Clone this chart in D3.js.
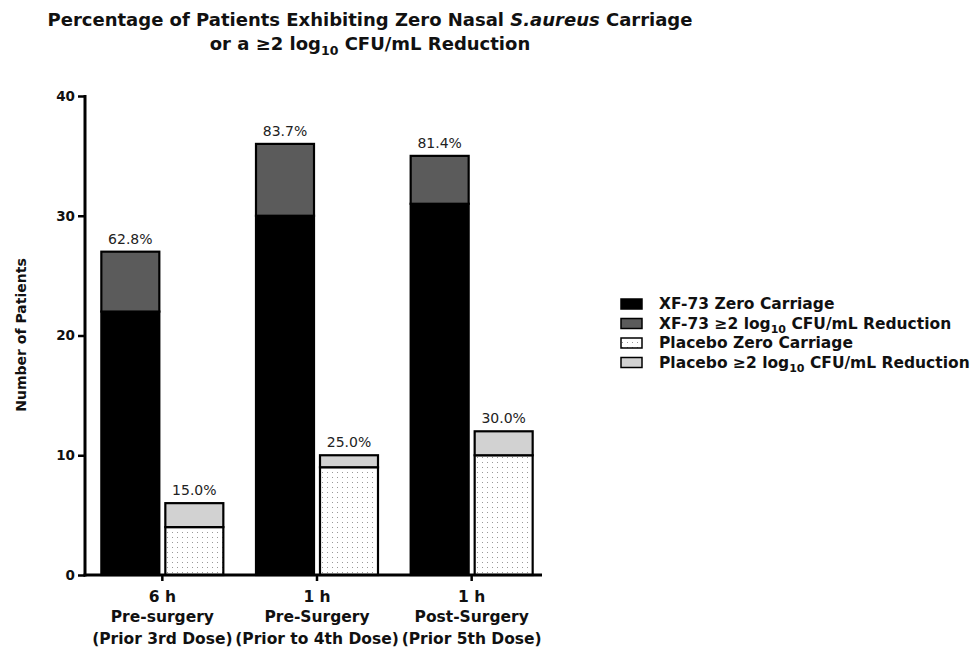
<!DOCTYPE html>
<html><head><meta charset="utf-8">
<script src="https://cdn.jsdelivr.net/npm/d3@7"></script>
<style>body{margin:0;background:#fff;font-family:"DejaVu Sans",sans-serif;}</style>
</head><body><svg id="c" width="971" height="648"></svg>
<script>
const categories = ["g1","g2","g3"];
const catLines = [["6 h","Pre-surgery","(Prior 3rd Dose)"],["1 h","Pre-Surgery","(Prior to 4th Dose)"],["1 h","Post-Surgery","(Prior 5th Dose)"]];
const xfZero = [22,30,31];
const xfRed = [5,6,4];
const pbZero = [4,9,10];
const pbRed = [2,1,2];
const xfPct = ["62.8%","83.7%","81.4%"];
const pbPct = ["15.0%","25.0%","30.0%"];
const yTicks = [0,10,20,30,40];
const legendLabels = ["XF-73 Zero Carriage","XF-73 \u22652 log|10| CFU/mL Reduction","Placebo Zero Carriage","Placebo \u22652 log|10| CFU/mL Reduction"];

const FONT = "DejaVu Sans";
const svg = d3.select("#c");
const defs = svg.append("defs");
const pat = defs.append("pattern").attr("id","dots").attr("patternUnits","userSpaceOnUse").attr("width",5).attr("height",5);
pat.append("rect").attr("width",5).attr("height",5).attr("fill","#fff");
pat.append("rect").attr("x",2).attr("y",2).attr("width",1).attr("height",1).attr("fill","#999");

const fills = ["#000","#5b5b5b","url(#dots)","#d2d2d2"];

const x0 = 85, x1 = 542, yTop = 96, yBot = 575;
const x = d3.scaleBand().domain(categories).range([85, 549]).paddingInner(0).paddingOuter(0);
const y = d3.scaleLinear().domain([0,40]).range([yBot, yTop]);
const bw = 58, gap = 6;

// title
const t = svg.append("text").attr("text-anchor","middle").attr("font-weight","bold").attr("font-size",18).attr("fill","#111").attr("font-family",FONT);
const tl = t.append("tspan").attr("x",370).attr("y",26);
tl.append("tspan").text("Percentage of Patients Exhibiting Zero Nasal ");
tl.append("tspan").attr("font-style","italic").text("S.aureus");
tl.append("tspan").text(" Carriage");
const t2 = svg.append("text").attr("text-anchor","middle").attr("font-weight","bold").attr("font-size",18).attr("x",370).attr("y",50).attr("fill","#111").attr("font-family",FONT);
t2.append("tspan").text("or a \u22652 log");
t2.append("tspan").attr("font-size",12.5).attr("dy",5).text("10");
t2.append("tspan").attr("dy",-5).text(" CFU/mL Reduction");

// bars
categories.forEach((c,i)=>{
  const cx = x(c) + x.bandwidth()/2;
  const xa = cx - gap/2 - bw, xb = cx + gap/2;
  const stacks = [
    {x:xa, segs:[[0,xfZero[i],0],[xfZero[i],xfZero[i]+xfRed[i],1]], lab:xfPct[i]},
    {x:xb, segs:[[0,pbZero[i],2],[pbZero[i],pbZero[i]+pbRed[i],3]], lab:pbPct[i]}
  ];
  stacks.forEach(s=>{
    s.segs.forEach(([a,b,k])=>{
      svg.append("rect").attr("x",s.x).attr("y",y(b)).attr("width",bw).attr("height",y(a)-y(b))
        .attr("fill",fills[k]).attr("stroke","#000").attr("stroke-width",2.2);
    });
    const top = s.segs[1][1];
    svg.append("text").attr("x",s.x+bw/2).attr("y",y(top)-8).attr("text-anchor","middle")
      .attr("font-size",14).attr("fill","#222").attr("font-family",FONT).text(s.lab);
  });
});

// y axis
const ya = svg.append("g").attr("transform",`translate(${x0},0)`)
  .call(d3.axisLeft(y).tickValues(yTicks).tickSize(7).tickPadding(3));
ya.select(".domain").attr("stroke-width",3).attr("d",`M0,${yTop-1}V${yBot+1.5}`);
ya.selectAll(".tick line").attr("stroke-width",2.5);
ya.selectAll(".tick text").attr("font-size",13.5).attr("font-weight","bold").attr("fill","#111").attr("font-family",FONT);

// x axis
svg.append("line").attr("x1",x0-1.5).attr("x2",x1).attr("y1",yBot).attr("y2",yBot).attr("stroke","#000").attr("stroke-width",3);
categories.forEach((c,i)=>{
  const cx = x(c)+x.bandwidth()/2;
  svg.append("line").attr("x1",cx).attr("x2",cx).attr("y1",yBot).attr("y2",yBot+6).attr("stroke","#000").attr("stroke-width",2.5);
  catLines[i].forEach((l,j)=>{
    svg.append("text").attr("x",cx).attr("y",[602,622,644][j]).attr("text-anchor","middle")
      .attr("font-size",15.5).attr("font-weight","bold").attr("fill","#111").attr("font-family",FONT).text(l);
  });
});

// y label
svg.append("text").attr("transform","translate(26,335) rotate(-90)").attr("text-anchor","middle")
  .attr("font-size",14).attr("font-weight","bold").attr("fill","#111").attr("font-family",FONT).text("Number of Patients");

// legend
legendLabels.forEach((l,i)=>{
  const yy = 309 + i*19.5;
  svg.append("rect").attr("x",621).attr("y",yy-10).attr("width",21).attr("height",10)
    .attr("fill",fills[i]).attr("stroke","#000").attr("stroke-width",1.5);
  const tx = svg.append("text").attr("x",659).attr("y",yy).attr("font-size",15.5).attr("font-weight","bold").attr("fill","#111").attr("font-family",FONT);
  const parts = l.split("|");
  tx.append("tspan").text(parts[0]);
  if(parts.length>1){
    tx.append("tspan").attr("font-size",11).attr("dy",4).text(parts[1]);
    tx.append("tspan").attr("dy",-4).text(parts[2]);
  }
});
</script></body></html>
